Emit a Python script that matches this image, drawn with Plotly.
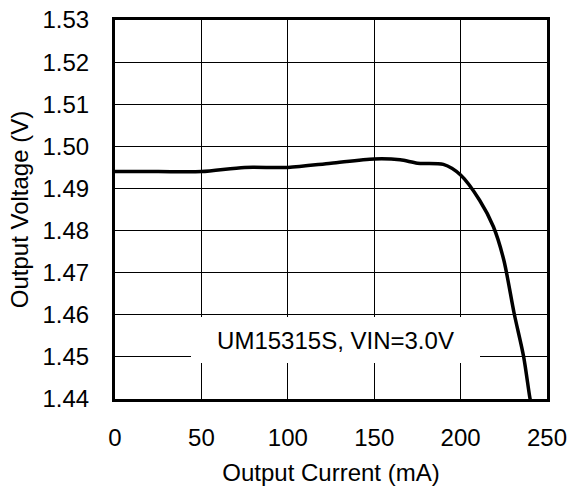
import plotly.graph_objects as go

current_ma = [0, 25, 50, 75, 100, 125, 150, 165, 175, 190, 200, 211, 219, 225, 231, 236.5, 240, 241]
voltage_v = [1.494, 1.494, 1.494, 1.495, 1.495, 1.496, 1.497, 1.4968, 1.4960, 1.4957, 1.4932,
             1.4872, 1.4809, 1.473, 1.4603, 1.450, 1.4405, 1.4385]

x_ticks = [0, 50, 100, 150, 200, 250]
y_ticks = [1.44, 1.45, 1.46, 1.47, 1.48, 1.49, 1.50, 1.51, 1.52, 1.53]
y_tick_labels = ["1.44", "1.45", "1.46", "1.47", "1.48", "1.49", "1.50", "1.51", "1.52", "1.53"]
label_text = "UM15315S, VIN=3.0V"

FONT = "Liberation Sans, Arial, sans-serif"

fig = go.Figure()
fig.add_trace(go.Scatter(
    x=current_ma, y=voltage_v, mode="lines",
    line=dict(color="black", width=3.5, shape="spline", smoothing=0.8),
    showlegend=False, hoverinfo="skip",
))

fig.add_annotation(
    x=127.7, y=1.454, xref="x", yref="y", text=label_text, showarrow=False,
    font=dict(family=FONT, size=24, color="black"),
    bgcolor="white", width=289, height=46, borderpad=0, borderwidth=0,
)

fig.update_layout(
    width=570, height=486,
    margin=dict(l=115, r=23, t=20, b=87, pad=0),
    paper_bgcolor="white", plot_bgcolor="white",
    font=dict(family=FONT, size=24, color="black"),
)
fig.update_xaxes(
    range=[0, 250], tickvals=x_ticks, ticktext=[str(v) for v in x_ticks],
    showgrid=True, gridcolor="black", gridwidth=1,
    showline=True, linecolor="black", linewidth=3, mirror=True,
    ticks="", ticklabelstandoff=15, zeroline=False, automargin=False,
    tickfont=dict(family=FONT, size=24, color="black"),
    title=dict(text="Output Current (mA)", font=dict(family=FONT, size=24, color="black"), standoff=20),
)
fig.update_yaxes(
    range=[1.44, 1.53], tickvals=y_ticks, ticktext=y_tick_labels,
    showgrid=True, gridcolor="black", gridwidth=1,
    showline=True, linecolor="black", linewidth=3, mirror=True,
    ticks="", ticklabelstandoff=18, zeroline=False, automargin=False,
    tickfont=dict(family=FONT, size=24, color="black"),
    title=dict(text="Output Voltage (V)", font=dict(family=FONT, size=24, color="black"), standoff=8),
)

fig.write_html("out.html")
